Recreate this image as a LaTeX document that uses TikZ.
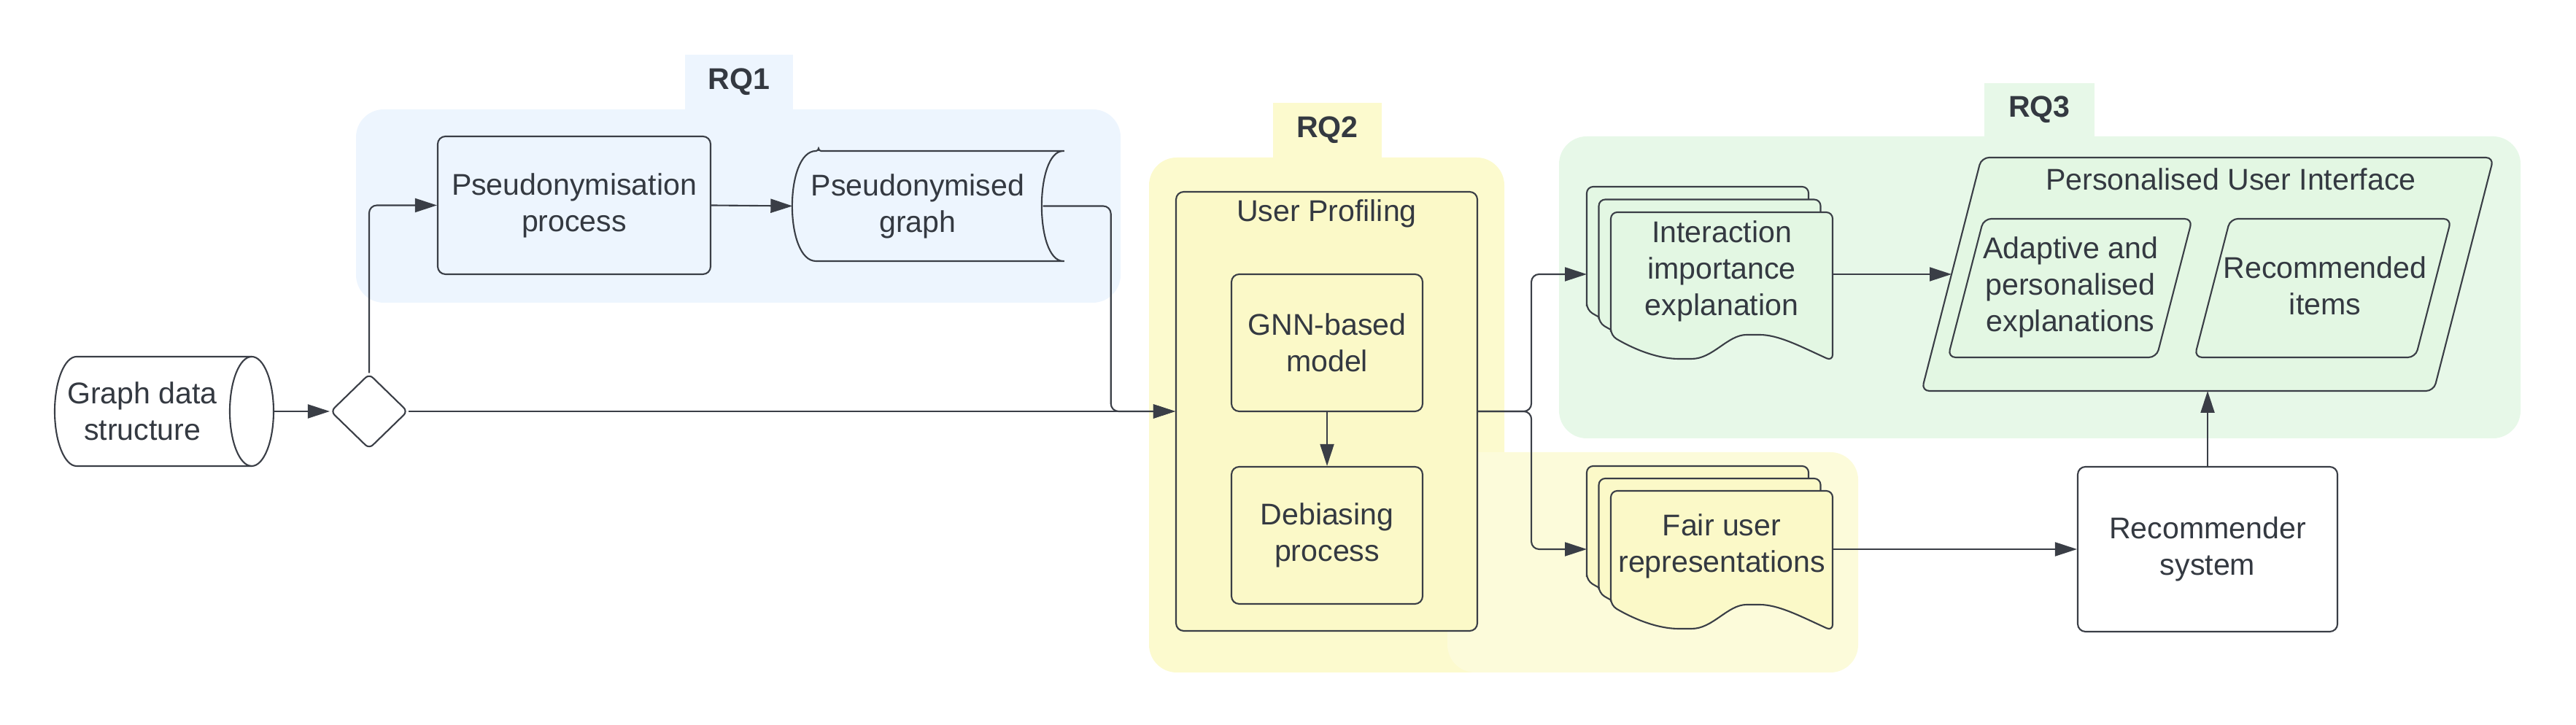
\documentclass[tikz,border=0pt]{standalone}
\usepackage{fontspec}
\setmainfont{Liberation Sans}
\usepackage{tikz}
\usetikzlibrary{positioning,calc,arrows.meta,shapes.geometric}
\usepackage{xcolor}

\definecolor{linegray}{RGB}{58,62,70}
\definecolor{textgray}{RGB}{52,57,65}
\definecolor{rqblue}{RGB}{237,245,254}
\definecolor{rqyellow}{RGB}{252,250,206}
\definecolor{paleyellow}{RGB}{252,251,218}
\definecolor{boxyellow}{RGB}{251,249,200}
\definecolor{rqgreen}{RGB}{231,248,232}
\definecolor{boxgreen}{RGB}{227,247,227}

% one page of a document stack: fill, left x, top y, height on the right
\newcommand{\docpage}[4]{%
  \draw[outline, fill=#1, rounded corners=2.5pt, shift={(#2,#3)}]
    (0,0.35-#4) -- (0,0) -- (3.04,0) -- (3.04,-#4)
    .. controls (2.6,0.2-#4) and (2.3,0.36-#4) .. (1.95,0.36-#4)
    .. controls (1.6,0.36-#4) and (1.4,0.03-#4) .. (1.02,0.03-#4)
    .. controls (0.6,0.03-#4) and (0.25,0.2-#4) .. (0,0.35-#4) -- cycle;}

\begin{document}
\begin{tikzpicture}[
    font=\fontsize{11.7}{14.2}\selectfont,
    text=textgray,
    outline/.style={draw=linegray, line width=0.6pt},
    box/.style={outline, rounded corners=3pt, align=center},
    area/.style={rounded corners=0.38cm, inner sep=0pt},
    tab/.style={inner sep=0pt, text height=8.6pt, text depth=4.2pt, font=\fontsize{11.7}{14.2}\selectfont\bfseries},
    connector/.style={draw=linegray, line width=0.6pt, rounded corners=3pt, -{Triangle[length=3mm, width=1.9mm]}},
    slanted/.style={outline, rounded corners=3pt}
  ]

    \useasboundingbox (0,0) rectangle (35.31,9.94);

    % Research question areas
    \node[area, fill=rqblue, minimum width=10.48cm, minimum height=2.65cm] (rq1 area) at (10.12,7.115) {};
    \node[tab, fill=rqblue, minimum width=1.48cm, minimum height=0.80cm] (rq1) at (10.13,8.79) {RQ1};

    \node[area, fill=rqyellow, minimum width=4.87cm, minimum height=7.06cm] (rq2 area) at (18.185,4.25) {};
    \node[tab, fill=rqyellow, minimum width=1.49cm, minimum height=0.79cm] (rq2) at (18.195,8.135) {RQ2};

    \node[area, fill=rqgreen, minimum width=13.18cm, minimum height=4.14cm] (rq3 area) at (27.96,6.00) {};
    \node[tab, fill=rqgreen, minimum width=1.51cm, minimum height=0.77cm] (rq3) at (27.955,8.415) {RQ3};

    \node[area, fill=paleyellow, minimum width=5.63cm, minimum height=3.02cm] (fair area) at (22.655,2.23) {};

    % Input
    \node[minimum width=3cm, minimum height=1.5cm] (gds) at (2.25,4.30) {};
    \draw[outline, fill=white] (1.05,5.05) -- (3.45,5.05)
      arc[start angle=90, end angle=-90, x radius=0.3cm, y radius=0.75cm] -- (1.05,3.55)
      arc[start angle=270, end angle=90, x radius=0.3cm, y radius=0.75cm] -- cycle;
    \draw[outline] (3.45,5.05) arc[start angle=90, end angle=270, x radius=0.3cm, y radius=0.75cm];
    \node[align=center] (gds text) at (1.95,4.30) {Graph data\\structure};

    \node[diamond, outline, fill=white, minimum width=1.06cm, minimum height=1.03cm, inner sep=0pt, rounded corners=2pt] (dia) at (5.06,4.30) {};

    % RQ1
    \node[box, fill=rqblue, minimum width=3.74cm, minimum height=1.89cm] (pp) at (7.87,7.125) {Pseudonymisation\\process};

    \draw[outline, fill=rqblue, rounded corners=1pt] (11.22,7.87) -- (14.61,7.87)
      .. controls (14.18,7.87) and (14.18,6.36) .. (14.61,6.36) -- (11.22,6.36)
      .. controls (10.75,6.36) and (10.75,7.87) .. (11.22,7.87) -- cycle;
    \node[align=center, minimum width=3.42cm, minimum height=1.51cm, inner sep=0pt] (pg) at (12.58,7.115) {Pseudonymised\\graph};

    % RQ2
    \node[box, fill=boxyellow, minimum width=4.13cm, minimum height=6.02cm] (up) at (18.185,4.30) {};
    \node (up title) at (18.185,7.01) {User Profiling};
    \node[box, fill=boxyellow, minimum width=2.62cm, minimum height=1.88cm] (gnn) at (18.19,5.24) {GNN-based\\model};
    \node[box, fill=boxyellow, minimum width=2.62cm, minimum height=1.88cm] (deb) at (18.19,2.60) {Debiasing\\process};

    % Document stacks
    \docpage{boxgreen}{21.75}{7.38}{2.04}
    \docpage{boxgreen}{21.915}{7.205}{2.04}
    \docpage{boxgreen}{22.08}{7.03}{2.04}
    \node[align=center] (iie) at (23.60,6.22) {Interaction\\importance\\explanation};
    \coordinate (iie in) at (21.75,6.18);
    \coordinate (iie out) at (25.12,6.18);

    \docpage{boxyellow}{21.75}{3.55}{1.92}
    \docpage{boxyellow}{21.915}{3.38}{1.92}
    \docpage{boxyellow}{22.08}{3.21}{1.92}
    \node[align=center] (fur) at (23.60,2.45) {Fair user\\representations};
    \coordinate (fur in) at (21.75,2.41);
    \coordinate (fur out) at (25.12,2.41);

    % RQ3
    \draw[slanted, fill=boxgreen] (26.34,4.58) -- (27.16,7.78) -- (34.18,7.78) -- (33.36,4.58) -- cycle;
    \node (pui) at (30.58,7.48) {Personalised User Interface};
    \coordinate (pui in) at (26.75,6.18);
    \coordinate (pui out) at (30.26,4.58);

    \draw[slanted, fill=boxgreen] (26.70,5.04) -- (27.19,6.94) -- (30.05,6.94) -- (29.56,5.04) -- cycle;
    \node[align=center] (ape) at (28.38,6.00) {Adaptive and\\personalised\\explanations};

    \draw[slanted, fill=boxgreen] (30.08,5.04) -- (30.57,6.94) -- (33.60,6.94) -- (33.11,5.04) -- cycle;
    \node[align=center] (ri) at (31.87,6.02) {Recommended\\items};

    \node[box, fill=white, minimum width=3.56cm, minimum height=2.26cm] (rs) at (30.26,2.41) {Recommender\\system};

    % Connectors
    \draw[connector] (gds.east) -- (dia.west);
    \draw[connector] (dia.north) |- (pp.west);
    \draw[connector] (pp.east) -- (pg.west);
    \draw[connector] (dia.east) -- (up.west);
    \draw[connector] (pg.east) -- ++(0.93,0) |- (up.west);
    \draw[connector] (gnn.south) -- (deb.north);
    \draw[connector] (up.east) -- ++(0.73,0) |- (iie in);
    \draw[connector] (up.east) -- ++(0.73,0) |- (fur in);
    \draw[connector] (iie out) -- (pui in);
    \draw[connector] (fur out) -- (rs.west);
    \draw[connector] (rs.north) -- (pui out);
\end{tikzpicture}
\end{document}
